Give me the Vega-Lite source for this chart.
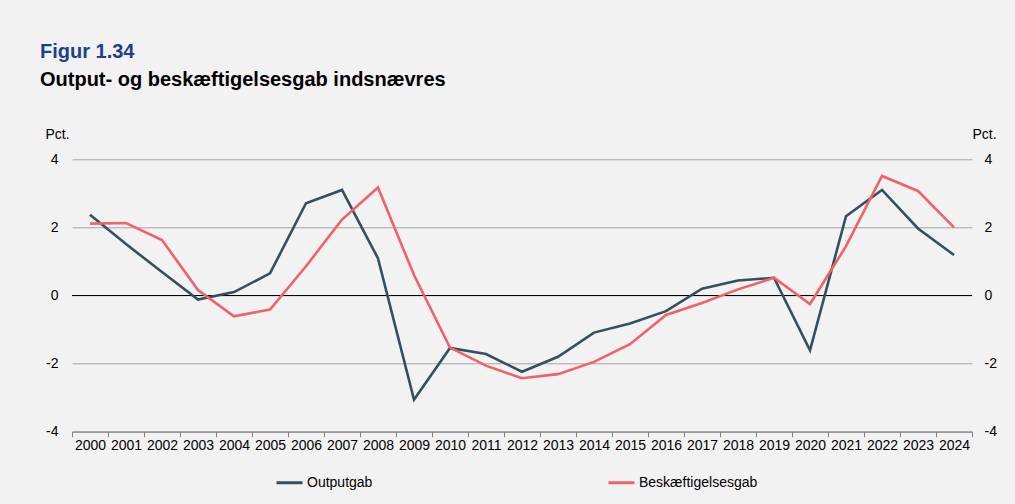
{
  "$schema": "https://vega.github.io/schema/vega-lite/v6.json",
  "width": 900,
  "height": 272.4,
  "autosize": {"type": "none"},
  "padding": {"left": 72, "top": 159.3, "right": 43, "bottom": 72.3},
  "background": "#f2f2f2",
  "config": {"view": {"stroke": null}, "font": "Liberation Sans"},
  "title": {
    "text": "Figur 1.34",
    "subtitle": "Output- og beskæftigelsesgab indsnævres",
    "anchor": "start",
    "frame": "group",
    "dx": -32,
    "offset": 37,
    "fontSize": 20,
    "fontWeight": "bold",
    "color": "#1e3f8a",
    "subtitleFontSize": 20,
    "subtitleFontWeight": "bold",
    "subtitleColor": "#000000",
    "subtitlePadding": 8
  },
  "data": {
    "values": [
      {"year": "2000", "series": "Outputgab", "value": 2.37},
      {"year": "2001", "series": "Outputgab", "value": 1.51},
      {"year": "2002", "series": "Outputgab", "value": 0.69},
      {"year": "2003", "series": "Outputgab", "value": -0.12},
      {"year": "2004", "series": "Outputgab", "value": 0.1},
      {"year": "2005", "series": "Outputgab", "value": 0.65},
      {"year": "2006", "series": "Outputgab", "value": 2.71},
      {"year": "2007", "series": "Outputgab", "value": 3.1},
      {"year": "2008", "series": "Outputgab", "value": 1.09},
      {"year": "2009", "series": "Outputgab", "value": -3.06},
      {"year": "2010", "series": "Outputgab", "value": -1.54},
      {"year": "2011", "series": "Outputgab", "value": -1.72},
      {"year": "2012", "series": "Outputgab", "value": -2.24},
      {"year": "2013", "series": "Outputgab", "value": -1.8},
      {"year": "2014", "series": "Outputgab", "value": -1.09},
      {"year": "2015", "series": "Outputgab", "value": -0.82},
      {"year": "2016", "series": "Outputgab", "value": -0.46},
      {"year": "2017", "series": "Outputgab", "value": 0.2},
      {"year": "2018", "series": "Outputgab", "value": 0.44},
      {"year": "2019", "series": "Outputgab", "value": 0.52},
      {"year": "2020", "series": "Outputgab", "value": -1.61},
      {"year": "2021", "series": "Outputgab", "value": 2.33},
      {"year": "2022", "series": "Outputgab", "value": 3.1},
      {"year": "2023", "series": "Outputgab", "value": 1.97},
      {"year": "2024", "series": "Outputgab", "value": 1.19},
      {"year": "2000", "series": "Beskæftigelsesgab", "value": 2.11},
      {"year": "2001", "series": "Beskæftigelsesgab", "value": 2.13},
      {"year": "2002", "series": "Beskæftigelsesgab", "value": 1.63},
      {"year": "2003", "series": "Beskæftigelsesgab", "value": 0.16},
      {"year": "2004", "series": "Beskæftigelsesgab", "value": -0.61},
      {"year": "2005", "series": "Beskæftigelsesgab", "value": -0.41},
      {"year": "2006", "series": "Beskæftigelsesgab", "value": 0.86},
      {"year": "2007", "series": "Beskæftigelsesgab", "value": 2.23},
      {"year": "2008", "series": "Beskæftigelsesgab", "value": 3.17},
      {"year": "2009", "series": "Beskæftigelsesgab", "value": 0.6},
      {"year": "2010", "series": "Beskæftigelsesgab", "value": -1.53},
      {"year": "2011", "series": "Beskæftigelsesgab", "value": -2.06},
      {"year": "2012", "series": "Beskæftigelsesgab", "value": -2.43},
      {"year": "2013", "series": "Beskæftigelsesgab", "value": -2.31},
      {"year": "2014", "series": "Beskæftigelsesgab", "value": -1.95},
      {"year": "2015", "series": "Beskæftigelsesgab", "value": -1.43},
      {"year": "2016", "series": "Beskæftigelsesgab", "value": -0.57},
      {"year": "2017", "series": "Beskæftigelsesgab", "value": -0.22},
      {"year": "2018", "series": "Beskæftigelsesgab", "value": 0.18},
      {"year": "2019", "series": "Beskæftigelsesgab", "value": 0.52},
      {"year": "2020", "series": "Beskæftigelsesgab", "value": -0.25},
      {"year": "2021", "series": "Beskæftigelsesgab", "value": 1.45},
      {"year": "2022", "series": "Beskæftigelsesgab", "value": 3.51},
      {"year": "2023", "series": "Beskæftigelsesgab", "value": 3.07},
      {"year": "2024", "series": "Beskæftigelsesgab", "value": 2.0}
    ]
  },
  "layer": [
    {
      "mark": {"type": "rule", "color": "#000000", "strokeWidth": 1},
      "encoding": {
        "y": {
          "datum": 0,
          "type": "quantitative",
          "scale": {"domain": [-4, 4]},
          "axis": {
            "orient": "right",
            "title": "Pct.",
            "titleAngle": 0,
            "titleAlign": "left",
            "titleBaseline": "alphabetic",
            "titleX": 0,
            "titleY": -21.3,
            "titleFontSize": 14,
            "titleFontWeight": "normal",
            "titleColor": "#000000",
            "domain": false,
            "ticks": false,
            "grid": false,
            "values": [-4, -2, 0, 2, 4],
            "labelExpr": "datum.value < 0 ? '-' + abs(datum.value) : '' + datum.value",
            "labelPadding": 12,
            "labelFontSize": 14,
            "labelColor": "#000000"
          }
        }
      }
    },
    {
      "mark": {"type": "line", "strokeWidth": 2.6},
      "encoding": {
        "x": {
          "field": "year",
          "type": "ordinal",
          "bandPosition": 0.5,
          "scale": {"type": "band", "paddingInner": 0, "paddingOuter": 0},
          "axis": {
            "title": null,
            "labelAngle": 0,
            "tickBand": "extent",
            "domainColor": "#7f7f7f",
            "tickColor": "#7f7f7f",
            "tickSize": 5,
            "labelPadding": 2,
            "labelFontSize": 14,
            "labelColor": "#000000",
            "grid": false
          }
        },
        "y": {
          "field": "value",
          "type": "quantitative",
          "scale": {"domain": [-4, 4]},
          "axis": {
            "orient": "left",
            "title": "Pct.",
            "titleAngle": 0,
            "titleAlign": "left",
            "titleBaseline": "alphabetic",
            "titleX": -27,
            "titleY": -21.3,
            "titleFontSize": 14,
            "titleFontWeight": "normal",
            "titleColor": "#000000",
            "domain": false,
            "ticks": false,
            "grid": true,
            "gridColor": "#a6a6a6",
            "gridWidth": 1,
            "values": [-4, -2, 0, 2, 4],
            "labelExpr": "datum.value < 0 ? '-' + abs(datum.value) : '' + datum.value",
            "labelPadding": 14,
            "labelFontSize": 14,
            "labelColor": "#000000"
          }
        },
        "color": {
          "field": "series",
          "type": "nominal",
          "scale": {"domain": ["Outputgab", "Beskæftigelsesgab"], "range": ["#33505f", "#f0626a"]},
          "legend": {
            "title": null,
            "orient": "none",
            "legendX": 203,
            "legendY": 308.7,
            "direction": "horizontal",
            "columns": 2,
            "columnPadding": 229,
            "symbolType": "stroke",
            "symbolSize": 676,
            "symbolStrokeWidth": 3,
            "labelFontSize": 14,
            "labelOffset": 3,
            "labelColor": "#000000"
          }
        }
      }
    }
  ],
  "resolve": {"axis": {"y": "independent"}}
}
